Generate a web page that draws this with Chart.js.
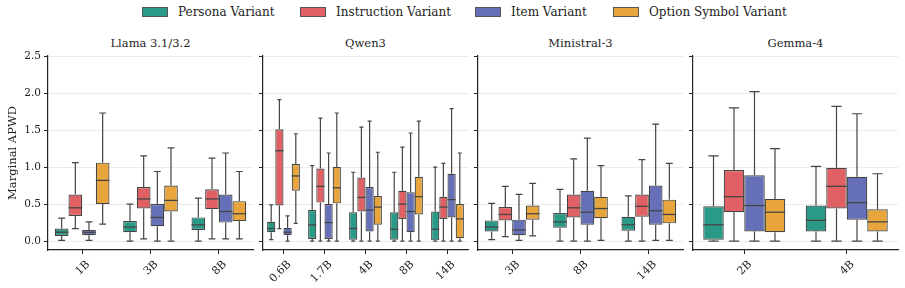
<!DOCTYPE html>
<html>
<head>
<meta charset="utf-8">
<script src="https://cdn.jsdelivr.net/npm/chart.js@4"></script>
<style>
  body { margin: 0; background: #fff; font-family: 'DejaVu Serif', serif; color: #222; }
  #wrap { position: relative; width: 905px; height: 288px; overflow: hidden; }
  .panel { position: absolute; }
  .ptitle { position: absolute; top: 36px; font-size: 11.5px; text-align: center; white-space: nowrap; }
  .litem { position: absolute; top: 3px; display: flex; align-items: center; font-size: 12px; white-space: nowrap; height: 18px; }
  .litem .sw { width: 24px; height: 8px; border: 1px solid #555; margin-right: 10px; }
</style>
</head>
<body>
<div id="wrap"></div>
<script>
// series names, colours
const variants = ['Persona Variant', 'Instruction Variant', 'Item Variant', 'Option Symbol Variant'];
const colors = ['#2a9a88', '#e06064', '#6570b8', '#e8a53c'];
const yTicks = [0, 0.5, 1.0, 1.5, 2.0, 2.5];

// each box: [whisker low, Q1, median, Q3, whisker high]
const llamaSizes = ['1B', '3B', '8B'];
const llamaPersona = [[0.01, 0.07, 0.12, 0.17, 0.31], [0.00, 0.12, 0.19, 0.27, 0.50], [0.00, 0.15, 0.22, 0.32, 0.58]];
const llamaInstruction = [[0.17, 0.34, 0.45, 0.63, 1.06], [0.03, 0.44, 0.57, 0.73, 1.15], [0.03, 0.43, 0.57, 0.70, 1.12]];
const llamaItem = [[0.01, 0.08, 0.12, 0.15, 0.26], [0.00, 0.20, 0.32, 0.50, 0.94], [0.03, 0.25, 0.40, 0.63, 1.19]];
const llamaOption = [[0.23, 0.50, 0.82, 1.06, 1.73], [0.00, 0.40, 0.55, 0.75, 1.26], [0.03, 0.27, 0.37, 0.54, 0.94]];

const qwenSizes = ['0.6B', '1.7B', '4B', '8B', '14B'];
const qwenPersona = [[0.02, 0.12, 0.17, 0.26, 0.49], [0.00, 0.03, 0.22, 0.42, 1.02], [0.00, 0.02, 0.17, 0.39, 0.93], [0.00, 0.02, 0.16, 0.39, 0.93], [0.00, 0.01, 0.16, 0.40, 1.00]];
const qwenInstruction = [[0.17, 0.48, 1.22, 1.51, 1.91], [0.00, 0.52, 0.74, 0.98, 1.66], [0.00, 0.40, 0.59, 0.86, 1.54], [0.00, 0.30, 0.50, 0.68, 1.27], [0.00, 0.30, 0.46, 0.60, 1.05]];
const qwenItem = [[0.00, 0.08, 0.12, 0.18, 0.34], [0.00, 0.03, 0.25, 0.50, 1.19], [0.00, 0.13, 0.42, 0.73, 1.62], [0.00, 0.12, 0.40, 0.66, 1.46], [0.00, 0.32, 0.56, 0.91, 1.79]];
const qwenOption = [[0.24, 0.68, 0.88, 1.04, 1.45], [0.00, 0.51, 0.72, 1.00, 1.73], [0.00, 0.22, 0.46, 0.61, 1.20], [0.00, 0.36, 0.60, 0.87, 1.62], [0.00, 0.04, 0.30, 0.50, 1.19]];

const ministralSizes = ['3B', '8B', '14B'];
const ministralPersona = [[0.02, 0.13, 0.19, 0.28, 0.51], [0.00, 0.18, 0.26, 0.38, 0.70], [0.00, 0.14, 0.22, 0.33, 0.61]];
const ministralInstruction = [[0.06, 0.28, 0.36, 0.46, 0.74], [0.00, 0.32, 0.45, 0.63, 1.11], [0.00, 0.33, 0.47, 0.63, 1.10]];
const ministralItem = [[0.01, 0.08, 0.15, 0.29, 0.63], [0.00, 0.22, 0.39, 0.68, 1.39], [0.01, 0.22, 0.41, 0.75, 1.58]];
const ministralOption = [[0.07, 0.29, 0.37, 0.48, 0.78], [0.01, 0.31, 0.44, 0.60, 1.02], [0.01, 0.24, 0.36, 0.56, 1.05]];

const gemmaSizes = ['2B', '4B'];
const gemmaPersona = [[0.00, 0.02, 0.22, 0.47, 1.15], [0.00, 0.13, 0.28, 0.48, 1.01]];
const gemmaInstruction = [[0.00, 0.39, 0.60, 0.96, 1.80], [0.00, 0.44, 0.74, 0.99, 1.82]];
const gemmaItem = [[0.00, 0.13, 0.48, 0.89, 2.02], [0.00, 0.29, 0.52, 0.87, 1.72]];
const gemmaOption = [[0.00, 0.12, 0.39, 0.57, 1.25], [0.00, 0.13, 0.26, 0.43, 0.91]];

const panels = [
  { title: 'Llama 3.1/3.2', sizes: llamaSizes, series: [llamaPersona, llamaInstruction, llamaItem, llamaOption], plotLeft: 48, first: true },
  { title: 'Qwen3', sizes: qwenSizes, series: [qwenPersona, qwenInstruction, qwenItem, qwenOption], plotLeft: 263 },
  { title: 'Ministral-3', sizes: ministralSizes, series: [ministralPersona, ministralInstruction, ministralItem, ministralOption], plotLeft: 478 },
  { title: 'Gemma-4', sizes: gemmaSizes, series: [gemmaPersona, gemmaInstruction, gemmaItem, gemmaOption], plotLeft: 693 }
];

const plotWidth = 205;
const legendLeft = [142, 300, 475, 613];
const lineColor = '#454545';

Chart.defaults.font.family = "'DejaVu Serif', serif";
Chart.defaults.color = '#222';

// whiskers behind the boxes, medians on top
const boxPlugin = {
  id: 'boxParts',
  beforeDatasetsDraw(chart) {
    const ctx = chart.ctx;
    const y = chart.scales.y;
    ctx.save();
    ctx.strokeStyle = lineColor;
    ctx.lineWidth = 1.2;
    chart.data.datasets.forEach((ds, i) => {
      chart.getDatasetMeta(i).data.forEach((bar, j) => {
        const s = ds.stats[j];
        const x = bar.x, half = bar.width / 4;
        const pLo = y.getPixelForValue(s[0]), pQ1 = y.getPixelForValue(s[1]);
        const pQ3 = y.getPixelForValue(s[3]), pHi = y.getPixelForValue(s[4]);
        ctx.beginPath();
        ctx.moveTo(x, pQ1); ctx.lineTo(x, pLo);
        ctx.moveTo(x, pQ3); ctx.lineTo(x, pHi);
        ctx.moveTo(x - half, pLo); ctx.lineTo(x + half, pLo);
        ctx.moveTo(x - half, pHi); ctx.lineTo(x + half, pHi);
        ctx.stroke();
      });
    });
    ctx.restore();
  },
  afterDatasetsDraw(chart) {
    const ctx = chart.ctx;
    const y = chart.scales.y;
    ctx.save();
    ctx.strokeStyle = lineColor;
    ctx.lineWidth = 1.3;
    chart.data.datasets.forEach((ds, i) => {
      chart.getDatasetMeta(i).data.forEach((bar, j) => {
        const pMed = y.getPixelForValue(ds.stats[j][2]);
        ctx.beginPath();
        ctx.moveTo(bar.x - bar.width / 2, pMed);
        ctx.lineTo(bar.x + bar.width / 2, pMed);
        ctx.stroke();
      });
    });
    ctx.restore();
  }
};

const wrap = document.getElementById('wrap');

// legend
variants.forEach((name, i) => {
  const item = document.createElement('div');
  item.className = 'litem';
  item.style.left = legendLeft[i] + 'px';
  item.innerHTML = `<span class="sw" style="background:${colors[i]}"></span><span>${name}</span>`;
  wrap.appendChild(item);
});

panels.forEach(p => {
  const axisW = p.first ? 48 : 8;
  const canvasLeft = p.plotLeft - axisW;
  const canvasW = axisW + plotWidth + 3;

  const title = document.createElement('div');
  title.className = 'ptitle';
  title.textContent = p.title;
  title.style.left = p.plotLeft + 'px';
  title.style.width = plotWidth + 'px';
  wrap.appendChild(title);

  const box = document.createElement('div');
  box.className = 'panel';
  box.style.left = canvasLeft + 'px';
  box.style.top = '45px';
  box.style.width = canvasW + 'px';
  box.style.height = '243px';
  const canvas = document.createElement('canvas');
  box.appendChild(canvas);
  wrap.appendChild(box);

  new Chart(canvas, {
    type: 'bar',
    data: {
      labels: p.sizes,
      datasets: p.series.map((s, i) => ({
        label: variants[i],
        data: s.map(b => [b[1], b[3]]),
        stats: s,
        backgroundColor: colors[i],
        borderColor: lineColor,
        borderWidth: 1.2,
        borderSkipped: false,
        categoryPercentage: 0.8,
        barPercentage: 1.0
      }))
    },
    options: {
      responsive: true,
      maintainAspectRatio: false,
      animation: false,
      layout: { padding: { top: 11, right: 3, bottom: 0, left: 0 } },
      plugins: { legend: { display: false }, tooltip: { enabled: false } },
      scales: {
        x: {
          offset: true,
          grid: { display: true, drawOnChartArea: false, drawTicks: true, tickLength: 4, tickColor: '#222', offset: false },
          border: { display: true, color: '#222', width: 1.2 },
          ticks: { maxRotation: 45, minRotation: 45, font: { size: 11 }, color: '#222', padding: 4, labelOffset: 6 },
          afterFit: s => { s.height = 38; }
        },
        y: {
          min: -0.12,
          max: 2.5,
          afterBuildTicks: s => { s.ticks = yTicks.map(v => ({ value: v })); },
          grid: { color: '#ebebeb', lineWidth: 1, tickLength: 4, tickColor: '#222' },
          border: { display: true, color: '#222', width: 1.2 },
          ticks: {
            font: { size: 10.5 },
            color: '#222',
            padding: 3,
            callback: v => p.first ? v.toFixed(1) : ''
          },
          title: { display: !!p.first, text: 'Marginal APWD', font: { size: 11.5 }, color: '#222', padding: { top: 6, bottom: 0 } },
          afterFit: s => { s.width = axisW; }
        }
      }
    },
    plugins: [boxPlugin]
  });
});
</script>
</body>
</html>
